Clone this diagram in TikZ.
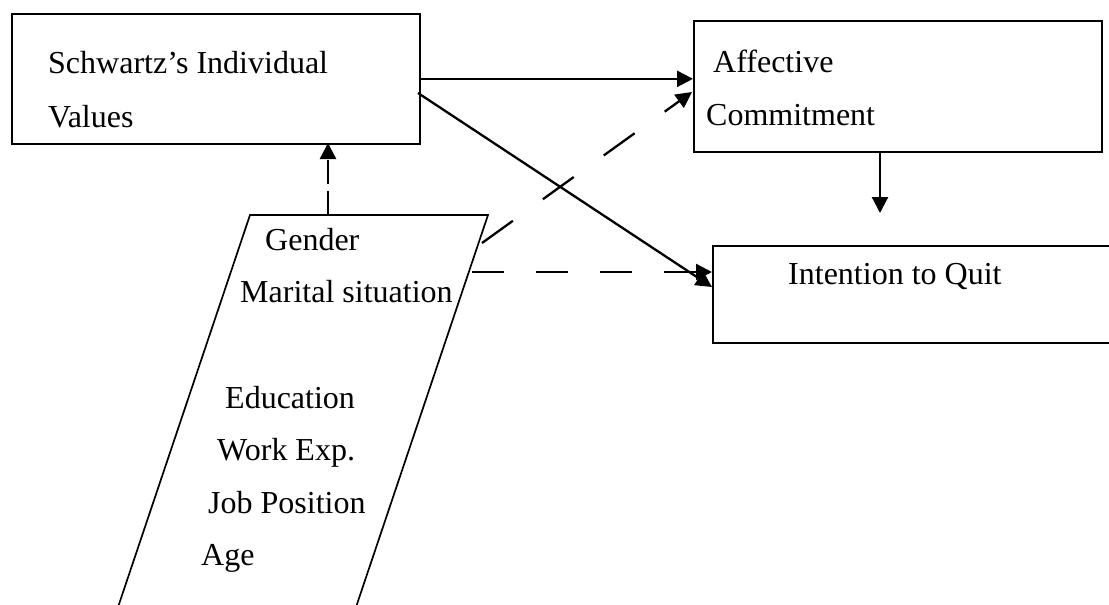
\documentclass[tikz,border=0pt]{standalone}
\usepackage{fontspec}
\setmainfont{Liberation Serif}
\usetikzlibrary{arrows.meta}
\begin{document}
\begin{tikzpicture}[x=1pt,y=-1pt,
  font=\fontsize{32}{38}\selectfont,
  box/.style={draw, line width=1.7pt, inner sep=0pt, anchor=north west},
  lbl/.style={anchor=base west, inner sep=0pt},
  arr/.style={line width=2.3pt, -{Triangle[length=16pt,width=16pt]}},
  dsh/.style={arr, dash pattern=on 38pt off 37pt},
  hdsh/.style={arr, dash pattern=on 32pt off 32pt},
  vdsh/.style={arr, dash pattern=on 24pt off 7pt}]
\useasboundingbox (0,0) rectangle (1109,605);

% boxes
\node[box, minimum width=408pt, minimum height=130pt] (sv) at (11,13) {};
\node[box, minimum width=408pt, minimum height=131pt] (ac) at (693,20) {};
\node[box, minimum width=420pt, minimum height=97pt] (iq) at (712,245) {};

% parallelogram (demographics)
\coordinate (pTL) at (250,215);
\coordinate (pTR) at (488,215);
\coordinate (pBR) at (351,622);
\coordinate (pBL) at (113,622);
\draw[line width=1.7pt] (pTL) -- (pTR) -- (pBR) -- (pBL) -- cycle;

% labels
\node[lbl] (t1) at (48,73) {Schwartz’s Individual};
\node[lbl] (t2) at (48,127) {Values};
\node[lbl] (t3) at (713,72) {Affective};
\node[lbl] (t4) at (706,125) {Commitment};
\node[lbl] (t5) at (788,284) {Intention to Quit};
\node[lbl] (g1) at (265,250) {Gender};
\node[lbl] (g2) at (240,302) {Marital situation};
\node[lbl] (g3) at (225,408) {Education};
\node[lbl] (g4) at (217,460) {Work Exp.};
\node[lbl] (g5) at (208,513) {Job Position};
\node[lbl] (g6) at (201,565) {Age};

% connector end points
\coordinate (s2) at (418,93);
\coordinate (e2) at (712,287);
\coordinate (d1s) at (482,243);
\coordinate (d1e) at (692,92);
\coordinate (d2s) at (472,272);
\coordinate (d2e) at (712,272);
\coordinate (d3s) at (328,215);
\coordinate (d3e) at (328,143);
\coordinate (ac2) at (880,151);
\coordinate (iq2) at (880,213);

% connectors
\draw[arr] (sv.east) -- (ac.west |- sv.east);
\draw[arr] (s2) -- (e2);
\draw[arr] (ac2) -- (iq2);
\draw[dsh] (d1s) -- (d1e);
\draw[hdsh] (d2s) -- (d2e);
\draw[vdsh] (d3s) -- (d3e);
\end{tikzpicture}
\end{document}
